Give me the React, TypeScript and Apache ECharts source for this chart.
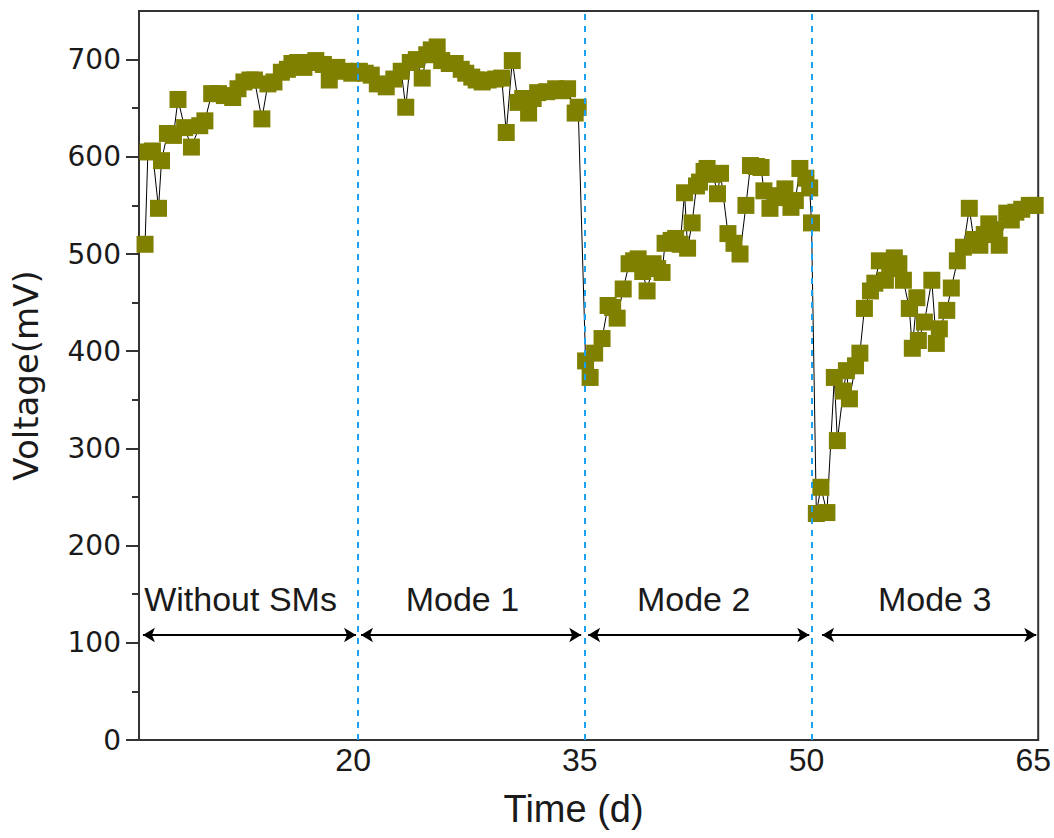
import React, { useEffect, useRef } from "react";
import * as echarts from "echarts";

// Measured cell voltage over time (days, mV)
const days = [
  5.9, 6.09, 6.39, 6.79, 6.99, 7.38, 7.78, 8.08, 8.52, 8.97, 9.52, 9.86, 10.31, 10.76, 11.15, 11.7, 12.05, 12.44,
  12.84, 13.14, 13.63, 14.03, 14.43, 14.92, 15.32, 15.62, 16.01, 16.41, 16.81, 17.2, 17.7, 18.09, 18.59, 19.09,
  19.58, 20.08,
  20.47, 20.87, 21.27, 21.86, 22.36, 22.85, 23.15, 23.45, 23.85, 24.24, 24.54, 24.84, 25.23, 25.53, 26.03, 26.42,
  26.82, 27.12, 27.52, 27.81, 28.21, 28.61, 29.1, 29.5, 29.8, 30.2, 30.59, 30.89, 31.28, 31.58, 31.88, 32.48,
  33.07, 33.47, 33.86, 34.36, 34.56,
  35.05, 35.35, 35.65, 36.14, 36.54, 36.84, 37.14, 37.54, 37.93, 38.23, 38.53, 38.83, 39.12, 39.52, 39.82, 40.11,
  40.31, 40.71, 41.01, 41.31, 41.6, 41.8, 42.1, 42.39, 42.59, 42.89, 43.09, 43.49, 43.78, 43.98, 44.47, 44.87,
  45.27, 45.66, 45.96, 46.36, 46.66, 46.85, 47.25, 47.65, 47.94, 48.24, 48.64, 48.93, 49.23, 49.63, 49.88, 50.0,
  50.32, 50.62, 51.02, 51.51, 51.71, 52.11, 52.31, 52.51, 52.91, 53.2, 53.5, 53.9, 54.19, 54.49, 54.89, 55.18,
  55.48, 55.78, 56.08, 56.47, 56.67, 56.97, 57.07, 57.47, 57.96, 58.26, 58.46, 58.95, 59.25, 59.65, 60.05, 60.44,
  60.74, 61.14, 61.43, 61.73, 62.13, 62.42, 62.92, 63.22, 63.52, 63.91, 64.41, 64.8,
];
const voltage = [
  510, 605, 606, 547, 596, 624, 622, 659, 630, 610, 632, 637, 665, 665, 663, 661, 670, 677,
  679, 679, 639, 675, 677, 687, 690, 696, 697, 692, 697, 699, 695, 679, 692, 688,
  686, 688,
  686, 684, 675, 672, 680, 688, 651, 697, 700, 681, 705, 710, 713, 699, 696, 696,
  690, 686, 682, 679, 677, 679, 680, 681, 625, 699, 656, 660, 645, 660, 666, 667,
  670, 668, 670, 645, 651,
  390, 373, 398, 413, 447, 445, 434, 464, 490, 493, 495, 482, 462, 490, 485, 481,
  511, 514, 516, 510, 563, 506, 532, 570, 574, 585, 588, 582, 562, 583, 521, 511,
  500, 550, 591, 590, 589, 565, 547, 560, 558, 567, 548, 555, 588, 578, 568, 532,
  233, 260, 234, 373, 308, 359, 380, 351, 385, 398, 444, 462, 470, 493, 473, 485,
  496, 490, 473, 444, 403, 455, 411, 430, 473, 408, 423, 442, 465, 493, 507, 547,
  515, 509, 520, 531, 525, 509, 542, 535, 543, 546, 550, 550,
];

// Axis ticks
const xTicks = [20, 35, 50, 65];
const yTicks = [0, 100, 200, 300, 400, 500, 600, 700];
const yMinorTicks = [50, 150, 250, 350, 450, 550, 650];

// Operating periods
const modeBounds = [20, 35, 50];
const modeNames = ["Without SMs", "Mode 1", "Mode 2", "Mode 3"];
const modeStart = [5.76, 20.19, 35.22, 50.7];
const modeEnd = [19.86, 34.76, 49.85, 64.87];
const modeLabelX = [12.22, 26.9, 42.2, 58.15];
const modeLabelY = 145;
const arrowLevel = 108;

const FONT = "'Liberation Sans', Arial, sans-serif";
const WIDE = "'DejaVu Sans', Verdana, sans-serif";

export default function App() {
  const ref = useRef<HTMLDivElement>(null);

  useEffect(() => {
    document.body.style.margin = "0";
    if (!ref.current) return;
    const chart = echarts.init(ref.current, undefined, { renderer: "svg" });

    const points = days.map((d, i) => [d, voltage[i]]);

    chart.setOption({
      animation: false,
      backgroundColor: "#ffffff",
      grid: {
        left: 139,
        right: 12,
        top: 11,
        bottom: 98,
        show: true,
        borderColor: "#333",
        borderWidth: 2,
        containLabel: false,
      },
      xAxis: {
        type: "value",
        min: 5.5,
        max: 65,
        splitLine: { show: false },
        axisLine: { show: true, lineStyle: { color: "#333", width: 2 } },
        axisTick: { show: false },
        axisLabel: {
          customValues: xTicks,
          fontSize: 32,
          color: "#1a1a1a",
          fontFamily: FONT,
          margin: 4,
          padding: [0, 10, 0, 0],
        },
        name: "Time (d)",
        nameLocation: "middle",
        nameGap: 50,
        nameTextStyle: { fontSize: 38, color: "#1a1a1a", fontFamily: FONT, padding: [0, 30, 0, 0] },
      },
      yAxis: [
        {
          type: "value",
          min: 0,
          max: 750,
          splitLine: { show: false },
          axisLine: { show: true, lineStyle: { color: "#333", width: 2 } },
          axisTick: {
            show: true,
            customValues: yTicks,
            length: 13,
            lineStyle: { color: "#333", width: 2 },
          },
          axisLabel: {
            customValues: yTicks,
            fontSize: 28,
            color: "#1a1a1a",
            fontFamily: WIDE,
            margin: 18,
          },
          name: "Voltage(mV)",
          nameLocation: "middle",
          nameGap: 96,
          nameTextStyle: { fontSize: 34, color: "#1a1a1a", fontFamily: WIDE },
        },
        {
          type: "value",
          min: 0,
          max: 750,
          position: "left",
          splitLine: { show: false },
          axisLine: { show: false },
          axisLabel: { show: false },
          axisTick: {
            show: true,
            customValues: yMinorTicks,
            length: 7,
            lineStyle: { color: "#333", width: 2 },
          },
        },
      ],
      series: [
        {
          type: "line",
          data: points,
          symbol: "rect",
          symbolSize: 17,
          showAllSymbol: true,
          lineStyle: { color: "#000", width: 1 },
          itemStyle: { color: "#808000" },
          z: 3,
        },
        {
          type: "line",
          data: [],
          silent: true,
          markLine: {
            silent: true,
            symbol: "none",
            label: { show: false },
            lineStyle: { color: "#1ea0f0", width: 2, type: [6, 6] },
            data: modeBounds.map((b) => ({ xAxis: b })),
          },
          z: 2,
        },
        {
          type: "line",
          data: [],
          silent: true,
          markLine: {
            silent: true,
            symbol: ["arrow", "arrow"],
            symbolSize: [11, 12],
            label: { show: false },
            lineStyle: { color: "#000", width: 2, type: "solid" },
            data: modeNames.map((n, i) => [
              { coord: [modeStart[i], arrowLevel] },
              { coord: [modeEnd[i], arrowLevel] },
            ]),
          },
          z: 4,
        },
        {
          type: "scatter",
          silent: true,
          symbolSize: 0,
          itemStyle: { opacity: 1, color: "#1a1a1a" },
          data: modeNames.map((n, i) => ({ value: [modeLabelX[i], modeLabelY], name: n })),
          label: {
            show: true,
            position: "inside",
            color: "#1a1a1a",
            opacity: 1,
            fontSize: 34,
            fontFamily: FONT,
            formatter: (p: any) => p.name,
          },
          z: 5,
        },
      ],
    });

    return () => chart.dispose();
  }, []);

  return <div ref={ref} style={{ width: 1054, height: 838 }} />;
}
